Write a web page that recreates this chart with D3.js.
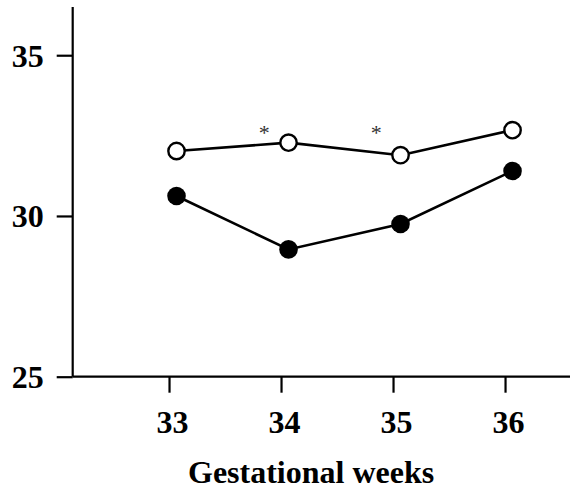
<!DOCTYPE html>
<html>
<head>
<meta charset="utf-8">
<script src="https://cdn.jsdelivr.net/npm/d3@7"></script>
<style>
  html, body { margin: 0; padding: 0; background: #fff; }
  svg { display: block; }
  text { font-family: "Liberation Serif", "Times New Roman", serif; }
</style>
</head>
<body>
<div id="chart"></div>
<script>
// ---- data ----
const weeks = [33, 34, 35, 36];
const openSeries = [32.02, 32.28, 31.89, 32.67];
const filledSeries = [30.62, 28.96, 29.75, 31.40];
const yTicks = [25, 30, 35];
const xTicks = [33, 34, 35, 36];
const asteriskWeeks = [33.85, 34.85];
const asteriskValue = 32.72;
const xTitle = "Gestational weeks";

// ---- layout ----
const W = 577, H = 492;
const svg = d3.select("#chart").append("svg").attr("width", W).attr("height", H);

const x = d3.scaleLinear().domain([32.14, 36.58]).range([72.7, 570]);
const y = d3.scaleLinear().domain([25, 36.5]).range([376.7, 7]);
const pointShift = 7.5; // points sit slightly right of the tick marks
const labelFont = 32;

// Y axis
const yAxis = d3.axisLeft(y).tickValues(yTicks).tickSize(16).tickPadding(13).tickFormat(d3.format("d"));
const gy = svg.append("g").attr("transform", `translate(${x.range()[0]},0)`).call(yAxis);
gy.select(".domain").attr("d", `M0,${y.range()[1]}V${y.range()[0]}`).attr("stroke", "#000").attr("stroke-width", 2.2);
gy.selectAll(".tick line").attr("stroke", "#000").attr("stroke-width", 2.2);
gy.selectAll(".tick text")
  .attr("font-family", "Liberation Serif, Times New Roman, serif")
  .attr("font-size", labelFont).attr("font-weight", "bold").attr("fill", "#000")
  .attr("dy", "0.34em");

// X axis
const xAxis = d3.axisBottom(x).tickValues(xTicks).tickSize(16).tickPadding(18).tickFormat(d3.format("d"));
const gx = svg.append("g").attr("transform", `translate(0,${y.range()[0]})`).call(xAxis);
gx.select(".domain").attr("d", `M${x.range()[0]},0H${x.range()[1]}`).attr("stroke", "#000").attr("stroke-width", 2.2);
gx.selectAll(".tick line").attr("stroke", "#000").attr("stroke-width", 2.2);
gx.selectAll(".tick text")
  .attr("font-family", "Liberation Serif, Times New Roman, serif")
  .attr("font-size", labelFont).attr("font-weight", "bold").attr("fill", "#000")
  .attr("dx", 3).attr("dy", "0.71em");

// X title
svg.append("text")
  .attr("x", 188).attr("y", 483)
  .attr("text-anchor", "start")
  .attr("font-size", 32).attr("font-weight", "bold").attr("fill", "#000")
  .text(xTitle);

const line = d3.line().x(d => x(d[0]) + pointShift).y(d => y(d[1]));

function drawSeries(values, fill) {
  const pts = weeks.map((w, i) => [w, values[i]]);
  svg.append("path").datum(pts).attr("d", line)
    .attr("fill", "none").attr("stroke", "#000").attr("stroke-width", 2.6);
  svg.append("g").selectAll("circle").data(pts).join("circle")
    .attr("cx", d => x(d[0]) + pointShift).attr("cy", d => y(d[1]))
    .attr("r", fill === "#000" ? 9.3 : 8.2)
    .attr("fill", fill).attr("stroke", "#000").attr("stroke-width", fill === "#000" ? 0 : 2.4);
}
drawSeries(filledSeries, "#000");
drawSeries(openSeries, "#fff");

// significance asterisks
svg.append("g").selectAll("text").data(asteriskWeeks).join("text")
  .attr("x", d => x(d)).attr("y", y(asteriskValue))
  .attr("dy", "0.5em")
  .attr("text-anchor", "middle")
  .attr("font-size", 22).attr("fill", "#333")
  .text("*");
</script>
</body>
</html>
